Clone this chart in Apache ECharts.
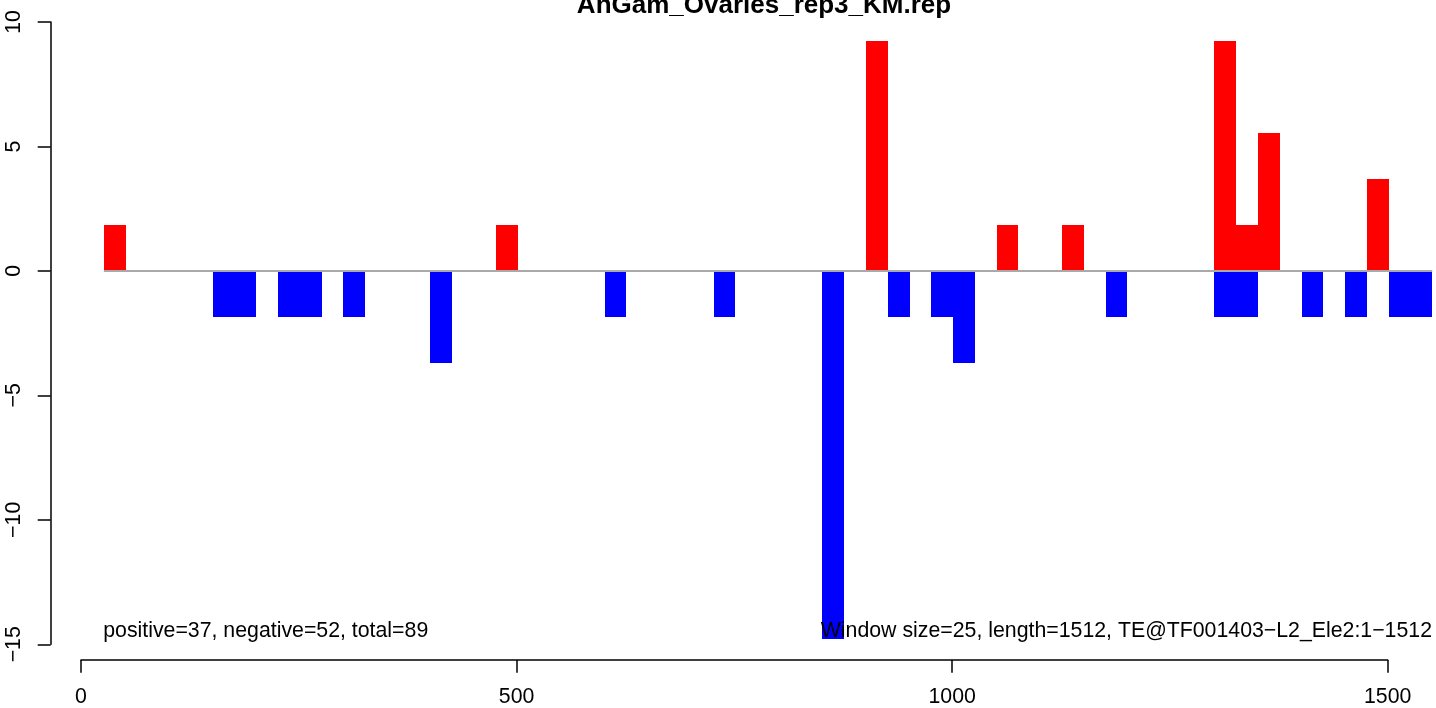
<!DOCTYPE html>
<html>
<head>
<meta charset="utf-8">
<script src="https://cdn.jsdelivr.net/npm/echarts@6/dist/echarts.min.js"></script>
<style>
html,body{margin:0;padding:0;background:#fff;}
#chart{width:1436px;height:708px;}
</style>
</head>
<body>
<div id="chart"></div>
<script>
// ---- data ----
var windowSize = 25;
var posStarts = [26, 476, 901, 1051, 1126, 1301, 1326, 1351, 1476];
var posValues = [1.85, 1.85, 9.25, 1.85, 1.85, 9.25, 1.85, 5.55, 3.7];
var negStarts = [151, 176, 226, 251, 301, 401, 601, 726, 851, 926, 976, 1001, 1176, 1301, 1326, 1401, 1451, 1501, 1526];
var negValues = [-1.85, -1.85, -1.85, -1.85, -1.85, -3.7, -1.85, -1.85, -14.8, -1.85, -1.85, -3.7, -1.85, -1.85, -1.85, -1.85, -1.85, -1.85, -1.85];
var baselineRange = [26, 1551];
var xTicks = [0, 500, 1000, 1500];
var yTicks = [-15, -10, -5, 0, 5, 10];
var titleText = 'AnGam_Ovaries_rep3_KM.rep';
var leftNote = 'positive=37, negative=52, total=89';
var rightNote = 'Window size=25, length=1512, TE@TF001403\u2212L2_Ele2:1\u22121512';

var FONT = '"Liberation Sans", Arial, Helvetica, sans-serif';

function pairs(starts, vals) {
  return starts.map(function (s, i) { return [s, vals[i]]; });
}

function barRender(color) {
  return function (params, api) {
    var s = api.value(0), v = api.value(1);
    var p0 = api.coord([s, 0]);
    var p1 = api.coord([s + windowSize, v]);
    var x0 = Math.round(p0[0]), x1 = Math.round(p1[0]);
    var y0 = Math.round(Math.min(p0[1], p1[1])), y1 = Math.round(Math.max(p0[1], p1[1]));
    return {
      type: 'rect',
      shape: { x: x0, y: y0, width: x1 - x0, height: y1 - y0 },
      style: { fill: color }
    };
  };
}

var chart = echarts.init(document.getElementById('chart'), null, { renderer: 'canvas' });

var option = {
  animation: false,
  backgroundColor: '#ffffff',
  grid: [
    { left: 50.7, top: 22, width: 1385.3, height: 622.3, containLabel: false },
    { left: 81, top: 600, width: 1306.7, height: 62.3, containLabel: false }
  ],
  xAxis: [
    { type: 'value', gridIndex: 0, min: -35, max: 1555.3, show: false },
    {
      type: 'value', gridIndex: 1, min: xTicks[0], max: xTicks[xTicks.length - 1], interval: 500,
      position: 'bottom',
      axisLine: { show: true, onZero: false, lineStyle: { color: '#000', width: 1.5 } },
      axisTick: { show: true, inside: false, length: 12.7, lineStyle: { color: '#000', width: 1.5 } },
      axisLabel: { show: true, margin: 27, color: '#000', fontSize: 21.3, fontFamily: FONT,
        formatter: function (v) { return String(v); } },
      splitLine: { show: false }
    }
  ],
  yAxis: [
    {
      type: 'value', gridIndex: 0, min: yTicks[0], max: yTicks[yTicks.length - 1], interval: 5,
      position: 'left',
      axisLine: { show: true, onZero: false, lineStyle: { color: '#000', width: 1.5 } },
      axisTick: { show: true, inside: false, length: 13, lineStyle: { color: '#000', width: 1.5 } },
      axisLabel: { show: true, rotate: 90, margin: 26, color: '#000', fontSize: 21.3, fontFamily: FONT,
        formatter: function (v) { return v < 0 ? '\u2212' + Math.abs(v) : String(v); } },
      splitLine: { show: false }
    },
    { type: 'value', gridIndex: 1, show: false, min: 0, max: 1 }
  ],
  series: [
    {
      type: 'custom', xAxisIndex: 0, yAxisIndex: 0, renderItem: barRender('#ff0000'),
      data: pairs(posStarts, posValues), encode: { x: 0, y: 1 }, z: 2, silent: true
    },
    {
      type: 'custom', xAxisIndex: 0, yAxisIndex: 0, renderItem: barRender('#0000ff'),
      data: pairs(negStarts, negValues), encode: { x: 0, y: 1 }, z: 2, silent: true
    },
    {
      type: 'line', xAxisIndex: 0, yAxisIndex: 0, symbol: 'none', silent: true,
      data: [[baselineRange[0], 0], [baselineRange[1], 0]],
      lineStyle: { color: '#a9a9a9', width: 2 }, z: 3
    }
  ],
  graphic: [
    { type: 'text', x: 764, y: 6, z: 10,
      style: { text: titleText, font: 'bold 26px ' + FONT, fill: '#000', align: 'center', verticalAlign: 'middle' } },
    { type: 'text', x: 103.2, y: 630.7, z: 10,
      style: { text: leftNote, font: '21.3px ' + FONT, fill: '#000', align: 'left', verticalAlign: 'middle' } },
    { type: 'text', x: 1432, y: 630.7, z: 10,
      style: { text: rightNote, font: '21.3px ' + FONT, fill: '#000', align: 'right', verticalAlign: 'middle' } }
  ]
};

chart.setOption(option);
</script>
</body>
</html>
